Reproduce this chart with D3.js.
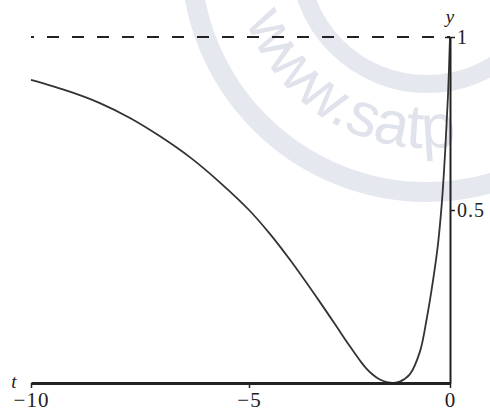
<!DOCTYPE html>
<html>
<head>
<meta charset="utf-8">
<script src="https://cdn.jsdelivr.net/npm/d3@7"></script>
<style>
  html, body { margin: 0; padding: 0; background: #fff; }
  svg { display: block; }
  text { font-family: "Liberation Serif", "DejaVu Serif", serif; fill: #222; }
</style>
</head>
<body>
<svg id="chart" width="490" height="413"></svg>
<script>
// ---- data ----
const tValues = [-10, -9.11, -8.42, -7.73, -7.04, -6.35, -5.67, -5.0, -4.48, -3.98, -3.23, -2.74, -2.49, -2.24, -2.09, -1.94, -1.79, -1.64, -1.49, -1.4, -1.25, -1.0, -0.75, -0.58, -0.42, -0.3, -0.2, -0.12, -0.05, 0];
const yValues = [0.876, 0.842, 0.809, 0.766, 0.713, 0.652, 0.580, 0.500, 0.431, 0.356, 0.233, 0.149, 0.106, 0.065, 0.043, 0.026, 0.013, 0.005, 0.001, 0.0, 0.004, 0.025, 0.090, 0.185, 0.298, 0.400, 0.525, 0.670, 0.830, 1.0];
const xTicks = [-10, -5, 0];
const xTickLabels = ["\u221210", "\u22125", "0"];
const yTicks = [0.5, 1];
const yTickLabels = ["0.5", "1"];
const asymptote = 1;
const watermarkText = "www.satp";

const svg = d3.select("#chart");

// polylinear x-scale (the reference axis is not perfectly uniform)
const x = d3.scaleLinear().domain([-10, -5, 0]).range([31, 249, 450]);
const y = d3.scaleLinear().domain([0, 1]).range([383, 37]);

// ---- watermark ----
const wm = svg.append("g");
const cx = 427, cy = -44;
wm.append("circle").attr("cx", cx).attr("cy", cy).attr("r", 236)
  .attr("fill", "none").attr("stroke", "#e6e8f0").attr("stroke-width", 20);
wm.append("circle").attr("cx", cx).attr("cy", cy).attr("r", 128)
  .attr("fill", "none").attr("stroke", "#e6e8f0").attr("stroke-width", 18);
const arcR = 192;
const th0 = 0, th1 = 175 * Math.PI / 180;
wm.append("path").attr("id", "wmpath")
  .attr("d", `M ${cx - arcR * Math.cos(th0)} ${cy + arcR * Math.sin(th0)} A ${arcR} ${arcR} 0 0 0 ${cx - arcR * Math.cos(th1)} ${cy + arcR * Math.sin(th1)}`)
  .attr("fill", "none");
wm.append("text")
  .style("font-family", "'Liberation Sans', Arial, sans-serif")
  .style("font-size", "62px")
  .style("fill", "#e0e3ec")
  .append("textPath").attr("href", "#wmpath").attr("startOffset", 66)
  .text(watermarkText);

// ---- dashed asymptote ----
svg.append("line")
  .attr("x1", x(-10)).attr("x2", x(0))
  .attr("y1", y(asymptote)).attr("y2", y(asymptote))
  .attr("stroke", "#222").attr("stroke-width", 2)
  .attr("stroke-dasharray", "12,13").attr("stroke-dashoffset", 9);

// ---- curve ----
const pts = tValues.map((t, i) => [t, yValues[i]]);
svg.append("path")
  .datum(pts)
  .attr("fill", "none")
  .attr("stroke", "#333")
  .attr("stroke-width", 1.8)
  .attr("d", d3.line().x(d => x(d[0])).y(d => y(d[1])).curve(d3.curveCatmullRom.alpha(0.5)));

// ---- bottom axis ----
const xAxis = d3.axisBottom(x).tickValues(xTicks).tickSize(5).tickSizeOuter(0)
  .tickFormat((d, i) => xTickLabels[i]);
const gx = svg.append("g").attr("transform", `translate(0,${y(0)})`).call(xAxis);
gx.select(".domain").attr("stroke", "#222").attr("stroke-width", 3);
gx.selectAll(".tick line").attr("stroke", "#222").attr("stroke-width", 1.5);
gx.selectAll(".tick text").attr("y", 9).attr("dy", "0.71em")
  .style("font-size", "21px").style("letter-spacing", "1px")
  .style("font-family", "'Liberation Serif', serif").attr("fill", "#222");

// ---- right axis ----
const yAxis = d3.axisRight(y).tickValues(yTicks).tickSize(5).tickSizeOuter(0)
  .tickFormat((d, i) => yTickLabels[i]);
const gy = svg.append("g").attr("transform", `translate(${x(0)},0)`).call(yAxis);
gy.select(".domain").attr("stroke", "#222").attr("stroke-width", 2);
gy.selectAll(".tick line").attr("stroke", "#222").attr("stroke-width", 1.5)
  .attr("x1", d => d === 1 ? -5 : 0);
gy.selectAll(".tick text").attr("x", 7)
  .style("font-size", "20px").style("letter-spacing", "1px")
  .style("font-family", "'Liberation Serif', serif").attr("fill", "#222");

// ---- axis names ----
svg.append("text").attr("x", 14).attr("y", 388).attr("text-anchor", "middle")
  .style("font-style", "italic").style("font-size", "19px").text("t");
svg.append("text").attr("x", 450).attr("y", 23).attr("text-anchor", "middle")
  .style("font-style", "italic").style("font-size", "19px").text("y");
</script>
</body>
</html>
